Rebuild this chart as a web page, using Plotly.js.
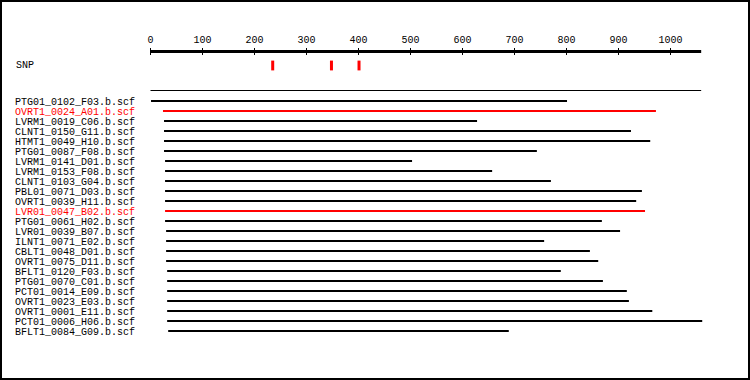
<!DOCTYPE html>
<html>
<head>
<meta charset="utf-8">
<script src="https://cdn.plot.ly/plotly-3.0.1.min.js"></script>
<style>
  html, body { margin: 0; padding: 0; background: #fff; }
  #wrap { position: relative; width: 750px; height: 380px; }
  #chart { width: 750px; height: 380px; }
  #frame { position: absolute; left: 0; top: 0; width: 750px; height: 380px;
           box-sizing: border-box; border: 2px solid #000; pointer-events: none; }
</style>
</head>
<body>
<div id="wrap"><div id="chart"></div><div id="frame"></div></div>
<script>
// ---- data ----
var readNames = [
  "PTG01_0102_F03.b.scf", "OVRT1_0024_A01.b.scf", "LVRM1_0019_C06.b.scf",
  "CLNT1_0150_G11.b.scf", "HTMT1_0049_H10.b.scf", "PTG01_0087_F08.b.scf",
  "LVRM1_0141_D01.b.scf", "LVRM1_0153_F08.b.scf", "CLNT1_0103_G04.b.scf",
  "PBL01_0071_D03.b.scf", "OVRT1_0039_H11.b.scf", "LVR01_0047_B02.b.scf",
  "PTG01_0061_H02.b.scf", "LVR01_0039_B07.b.scf", "ILNT1_0071_E02.b.scf",
  "CBLT1_0048_D01.b.scf", "OVRT1_0075_D11.b.scf", "BFLT1_0120_F03.b.scf",
  "PTG01_0070_C01.b.scf", "PCT01_0014_E09.b.scf", "OVRT1_0023_E03.b.scf",
  "OVRT1_0001_E11.b.scf", "PCT01_0006_H06.b.scf", "BFLT1_0084_G09.b.scf"
];
var readStarts = [1, 24, 26, 26, 26, 26, 28, 28, 28, 28, 28, 28,
                  28, 30, 30, 30, 30, 32, 32, 32, 32, 32, 32, 34];
var readEnds   = [801, 972, 628, 924, 961, 743, 503, 657, 770, 945, 934, 951,
                  868, 903, 757, 845, 861, 789, 870, 916, 920, 965, 1061, 689];
var highlighted = [false, true, false, false, false, false, false, false, false, false, false, true,
                   false, false, false, false, false, false, false, false, false, false, false, false];
var snpPositions = [235, 348, 401];
var sequenceLength = 1059;
var xTickVals = [0, 100, 200, 300, 400, 500, 600, 700, 800, 900, 1000];

// ---- build ----
var RED = "#ff0000", BLACK = "#000000";
var FONT = "Liberation Mono, DejaVu Sans Mono, monospace";
var SNP_ROW = -3.55, AXIS_ROW = -4.95, SEP_ROW = -1.05;

var bx = [], by = [], rx = [], ry = [];
readNames.forEach(function (n, i) {
  var X = highlighted[i] ? rx : bx, Y = highlighted[i] ? ry : by;
  X.push(readStarts[i], readEnds[i], null);
  Y.push(i, i, null);
});

var traces = [
  { type: "scatter", mode: "lines", x: bx, y: by, line: { color: BLACK, width: 2 },
    hoverinfo: "skip", showlegend: false },
  { type: "scatter", mode: "lines", x: rx, y: ry, line: { color: RED, width: 2 },
    hoverinfo: "skip", showlegend: false },
  { type: "scatter", mode: "markers", x: snpPositions, y: snpPositions.map(function () { return SNP_ROW; }),
    marker: { symbol: "line-ns", size: 7, color: RED, line: { color: RED, width: 3 } },
    hoverinfo: "skip", showlegend: false, cliponaxis: false }
];

var tickText = readNames.map(function (n, i) {
  return highlighted[i] ? '<span style="color:#ff0000">' + n + '</span>' : n;
});

var layout = {
  width: 750, height: 380,
  margin: { l: 140, r: 30, t: 48, b: 40, pad: 0 },
  paper_bgcolor: "#ffffff", plot_bgcolor: "#ffffff",
  showlegend: false,
  font: { family: FONT, size: 10, color: BLACK },
  xaxis: {
    side: "top", range: [-20.19, 1095.19],
    tickmode: "array", tickvals: xTickVals, ticktext: xTickVals.map(String),
    ticks: "inside", ticklen: 7, tickwidth: 1, tickcolor: BLACK,
    showline: false, showgrid: false, zeroline: false,
    tickfont: { family: FONT, size: 10, color: BLACK },
    ticklabelstandoff: 2, fixedrange: true
  },
  yaxis: {
    range: [23.9, -5.3],
    tickmode: "array", tickvals: readNames.map(function (n, i) { return i; }), ticktext: tickText,
    ticks: "", showline: false, showgrid: false, zeroline: false,
    tickfont: { family: FONT, size: 10, color: BLACK },
    ticklabelstandoff: 4, fixedrange: true
  },
  shapes: [
    { type: "line", xref: "x", yref: "y", x0: 0, x1: sequenceLength, y0: AXIS_ROW, y1: AXIS_ROW,
      line: { color: BLACK, width: 3 } },
    { type: "line", xref: "x", yref: "y", x0: 0, x1: sequenceLength, y0: SEP_ROW, y1: SEP_ROW,
      line: { color: BLACK, width: 1 } }
  ],
  annotations: [
    { text: "SNP", xref: "paper", yref: "y", x: 0, y: SNP_ROW, xanchor: "left", yanchor: "middle",
      xshift: -126, showarrow: false, font: { family: FONT, size: 10, color: BLACK } }
  ]
};

Plotly.newPlot("chart", traces, layout, { staticPlot: true, displayModeBar: false });
</script>
</body>
</html>
